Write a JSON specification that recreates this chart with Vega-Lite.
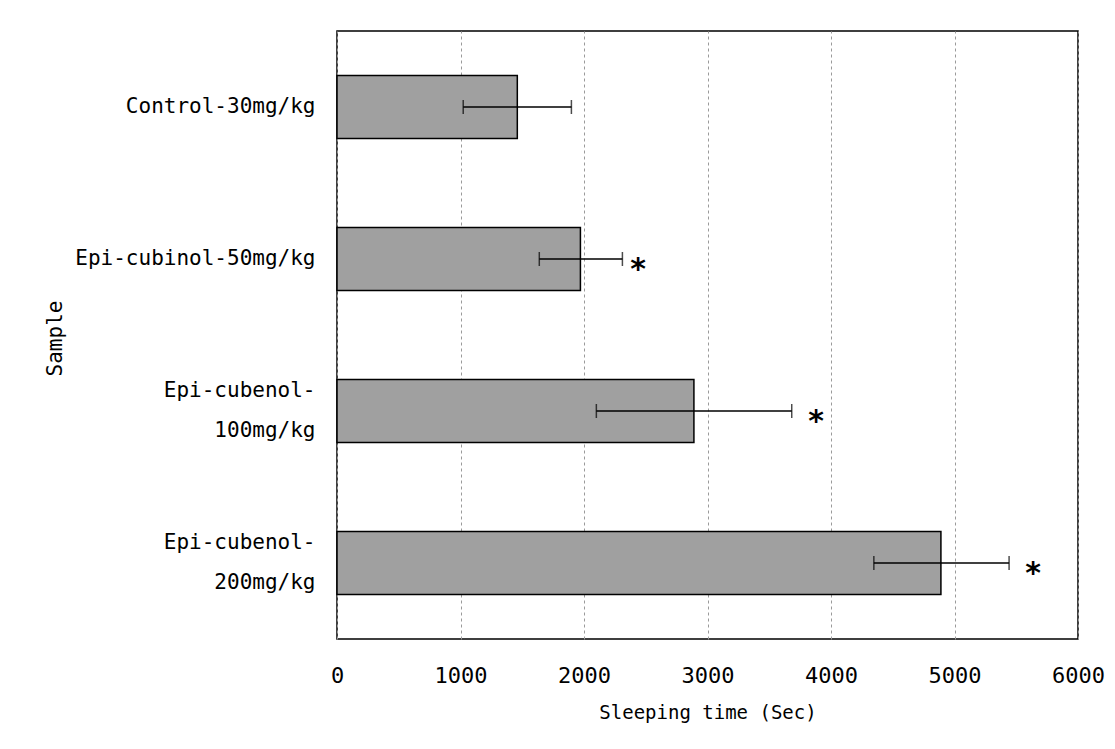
{
  "$schema": "https://vega.github.io/schema/vega-lite/v6.json",
  "width": 741,
  "height": 608,
  "autosize": {"type": "none"},
  "padding": {"left": 337, "top": 31, "right": 37, "bottom": 110},
  "background": "white",
  "config": {
    "font": "DejaVu Sans Mono",
    "view": {"stroke": "black", "strokeWidth": 1.5}
  },
  "data": {
    "values": [
      {"sample": "Control-30mg/kg", "mean": 1460, "low": 1022, "high": 1898, "sig": "", "sigx": 0},
      {"sample": "Epi-cubinol-50mg/kg", "mean": 1971, "low": 1638, "high": 2311, "sig": "*", "sigx": 2437},
      {"sample": "Epi-cubenol-100mg/kg", "mean": 2890, "low": 2100, "high": 3682, "sig": "*", "sigx": 3879},
      {"sample": "Epi-cubenol-200mg/kg", "mean": 4890, "low": 4347, "high": 5442, "sig": "*", "sigx": 5636}
    ]
  },
  "encoding": {
    "y": {
      "field": "sample",
      "type": "nominal",
      "sort": null,
      "title": "Sample",
      "scale": {"paddingInner": 0.585, "paddingOuter": 0.2925},
      "axis": {
        "labelExpr": "datum.value == 'Epi-cubenol-100mg/kg' ? ['Epi-cubenol-', '100mg/kg'] : datum.value == 'Epi-cubenol-200mg/kg' ? ['Epi-cubenol-', '200mg/kg'] : datum.value",
        "labelFont": "DejaVu Sans Mono",
        "labelFontSize": 21,
        "labelColor": "black",
        "labelPadding": 22,
        "labelLimit": 400,
        "labelLineHeight": 40,
        "labelOffset": {"condition": {"test": "indexof(datum.value, 'cubenol') >= 0", "value": -20}, "value": 0},
        "ticks": false,
        "domain": false,
        "titleFont": "DejaVu Sans Mono",
        "titleFontSize": 21,
        "titleFontWeight": "normal",
        "titleColor": "black",
        "titleX": -282,
        "titleY": 307,
        "titleAngle": 270,
        "titleAlign": "center",
        "titleBaseline": "middle"
      }
    }
  },
  "layer": [
    {
      "mark": {"type": "bar", "fill": "#a0a0a0", "stroke": "black", "strokeWidth": 1.5},
      "encoding": {
        "x": {
          "field": "mean",
          "type": "quantitative",
          "title": "Sleeping time (Sec)",
          "scale": {"domain": [0, 6000], "nice": false},
          "axis": {
            "values": [0, 1000, 2000, 3000, 4000, 5000, 6000],
            "format": "d",
            "labelFont": "DejaVu Sans Mono",
            "labelFontSize": 22,
            "labelColor": "black",
            "labelPadding": 26,
            "labelFlush": false,
            "ticks": false,
            "domain": false,
            "grid": true,
            "gridColor": "#9a9a9a",
            "gridDash": [3, 3],
            "gridWidth": 1,
            "titleFont": "DejaVu Sans Mono",
            "titleFontSize": 19,
            "titleFontWeight": "normal",
            "titleColor": "black",
            "titlePadding": 17
          }
        }
      }
    },
    {
      "mark": {"type": "rule", "color": "black", "strokeWidth": 1.5},
      "encoding": {"x": {"field": "low", "type": "quantitative"}, "x2": {"field": "high"}}
    },
    {
      "mark": {"type": "tick", "color": "black", "thickness": 1.5, "size": 14},
      "encoding": {"x": {"field": "low", "type": "quantitative"}}
    },
    {
      "mark": {"type": "tick", "color": "black", "thickness": 1.5, "size": 14},
      "encoding": {"x": {"field": "high", "type": "quantitative"}}
    },
    {
      "mark": {"type": "text", "font": "DejaVu Sans", "fontSize": 30, "fontWeight": "bold", "color": "black", "align": "center", "baseline": "middle", "dy": 11},
      "encoding": {"x": {"field": "sigx", "type": "quantitative"}, "text": {"field": "sig"}}
    }
  ]
}
